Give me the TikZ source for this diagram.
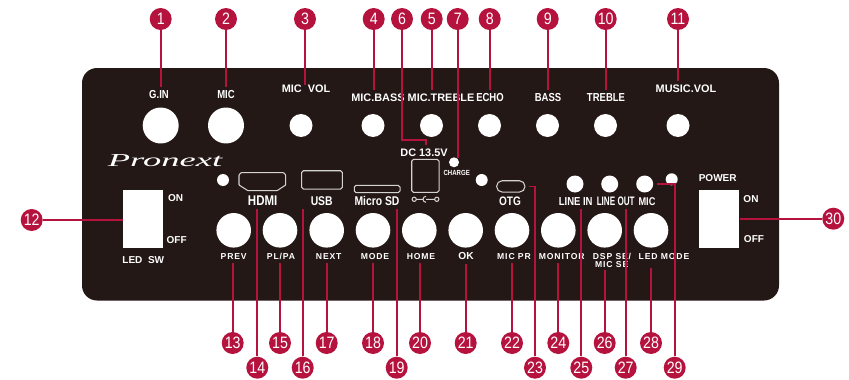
\documentclass[tikz,border=0pt]{standalone}
\usepackage{fontspec}
\setmainfont{Liberation Sans}
\newfontfamily\spacedfont[LetterSpace=10]{Liberation Sans}
\newfontfamily\narrowfont[FakeStretch=.82]{Liberation Sans}
\newfontfamily\tightfont[FakeStretch=.66]{Liberation Sans}
\newfontfamily\numfont[FakeStretch=.86]{Liberation Sans}
\newfontfamily\logofont[FakeStretch=2]{Liberation Serif}
\definecolor{panelblack}{HTML}{231815}
\definecolor{numred}{HTML}{B5123E}
\definecolor{portgray}{HTML}{D5D3D2}

\begin{document}
\begin{tikzpicture}[x=.02cm,y=-.02cm,
    num node/.style={circle,fill=numred,text=white,inner sep=0pt,minimum size=.44cm,font=\numfont\fontsize{9.4}{9.4}\selectfont},
    link/.style={draw=numred,line width=1pt,shorten >=2pt},
    every edge/.style=link,
    hole/.style={circle,fill=white,inner sep=0pt,minimum size=#1},
    switch/.style={fill=white,inner sep=0pt,minimum width=.8cm,minimum height=1.154cm},
    port/.style={draw=portgray,line width=.6pt,rounded corners=1pt,inner sep=0pt},
    plain label/.style={text=white,inner sep=0pt,text depth=0pt,text height=4.4pt,font=\bfseries\fontsize{6.2}{6.2}\selectfont},
    narrow label/.style={plain label,font=\narrowfont\bfseries\fontsize{6.6}{6.6}\selectfont},
    port label/.style={plain label,text height=5.2pt,font=\narrowfont\bfseries\fontsize{7.2}{7.2}\selectfont},
    key label/.style={plain label,text height=3.5pt,font=\spacedfont\bfseries\fontsize{4.9}{4.9}\selectfont}]
  \useasboundingbox (0,0) rectangle (849,379);
  \fill[panelblack,rounded corners=.3cm] (82,68) rectangle (779,300.5);

  \node[hole=.72cm] (k1) at (160.7,125.5) {};
  \node[hole=.72cm] (k2) at (226,125.5) {};
  \node[hole=.46cm] (k3) at (301,125.5) {};
  \node[hole=.46cm] (k4) at (373,125.5) {};
  \node[hole=.46cm] (k5) at (431.5,125.5) {};
  \node[hole=.46cm] (k8) at (489.5,125.5) {};
  \node[hole=.46cm] (k9) at (547.5,125.5) {};
  \node[hole=.46cm] (k10) at (605.5,125.5) {};
  \node[hole=.46cm] (k11) at (678,125.5) {};

  \node[narrow label] (gin) at (159,95) {G.IN};
  \node[narrow label] (mic) at (226,95) {MIC};
  \node[plain label] (micvol) at (306,89) {MIC\ \ VOL};
  \node[plain label] (micbass) at (378,98) {MIC.BASS};
  \node[plain label] (mictreble) at (441,98) {MIC.TREBLE};
  \node[narrow label] (echo) at (490,98) {ECHO};
  \node[narrow label] (bass) at (548,98) {BASS};
  \node[narrow label] (treble) at (606,98) {TREBLE};
  \node[plain label] (musicvol) at (686,89) {MUSIC.VOL};

  \node[text=white,inner sep=0pt,font=\logofont\itshape\fontsize{10.4}{10.4}\selectfont] (logo) at (165,161) {Pronext};
  \node[hole=.24cm] (d1) at (223,180) {};
  \node[hole=.2cm] (chargedot) at (454,162.3) {};
  \node[hole=.24cm] (d2) at (481.7,180) {};
  \node[hole=.34cm] (linein) at (575,184) {};
  \node[hole=.34cm] (lineout) at (609.7,184) {};
  \node[hole=.34cm] (micin) at (644.7,184) {};
  \node[hole=.24cm] (d3) at (671.7,179.3) {};

  \draw[port,rounded corners=.3pt] (239,175) -- (241,172.7) -- (283.7,172.7) -- (285.7,175) -- (285.7,185) -- (277,190.7) -- (248,190.7) -- (239,185) -- cycle;
  \node[port,minimum width=.812cm,minimum height=.366cm] (usbport) at (322,179.9) {};
  \node[port,minimum width=.914cm,minimum height=.148cm] (sdport) at (377.2,189) {};
  \node[port,minimum width=.546cm,minimum height=.66cm] (dcport) at (425.4,175.8) {};
  \node[port,rounded corners=3.1pt,minimum width=.566cm,minimum height=.226cm] (otgport) at (510.8,186.4) {};
  \draw[portgray,line width=.6pt] (414.2,199.3) circle (1.2pt) (416.5,199.3) -- (423,199.3)
    (426,196.3) arc[start angle=90,end angle=270,radius=1.7pt] (426,199.3) -- (434,199.3)
    (436.8,199.3) circle (1.2pt);

  \node[port label,font=\narrowfont\bfseries\fontsize{8}{8}\selectfont] (hdmi) at (262.7,200.7) {HDMI};
  \node[port label] (usb) at (321.7,200.7) {USB};
  \node[port label] (sd) at (377,200.7) {Micro SD};
  \node[plain label] (dc) at (424,152.7) {DC 13.5V};
  \node[narrow label,text height=3pt,font=\narrowfont\bfseries\fontsize{4.2}{4.2}\selectfont] (charge) at (456.7,172.7) {CHARGE};
  \node[port label,font=\narrowfont\bfseries\fontsize{7}{7}\selectfont] (otg) at (510,200.7) {OTG};
  \node[port label,font=\narrowfont\bfseries\fontsize{6.6}{6.6}\selectfont] (lineinl) at (575.7,200.7) {LINE IN};
  \node[port label,font=\tightfont\bfseries\fontsize{7}{7}\selectfont] (lineoutl) at (615.7,200.7) {LINE OUT};
  \node[port label,font=\narrowfont\bfseries\fontsize{6.4}{6.4}\selectfont] (micinl) at (647,200.7) {MIC};

  \node[switch] (swl) at (143.3,218.8) {};
  \node[switch] (swr) at (719.2,218.8) {};
  \node[plain label,font=\bfseries\fontsize{5.7}{5.7}\selectfont] (onl) at (175.7,197.7) {ON};
  \node[plain label,font=\bfseries\fontsize{5.7}{5.7}\selectfont] (offl) at (176.7,239.7) {OFF};
  \node[plain label,font=\bfseries\fontsize{5.7}{5.7}\selectfont] (ledsw) at (143.3,259.3) {LED\ \ SW};
  \node[plain label,font=\bfseries\fontsize{5.7}{5.7}\selectfont] (power) at (717.7,177.7) {POWER};
  \node[plain label,font=\bfseries\fontsize{5.7}{5.7}\selectfont] (onr) at (751,199) {ON};
  \node[plain label,font=\bfseries\fontsize{5.7}{5.7}\selectfont] (offr) at (754,238.3) {OFF};

  \node[hole=.692cm] (b13) at (233.7,230.3) {};
  \node[hole=.692cm] (b15) at (280,230.3) {};
  \node[hole=.692cm] (b17) at (326.7,230.3) {};
  \node[hole=.692cm] (b18) at (373,230.3) {};
  \node[hole=.692cm] (b20) at (419.3,230.3) {};
  \node[hole=.692cm] (b21) at (465.7,230.3) {};
  \node[hole=.692cm] (b22) at (512,230.3) {};
  \node[hole=.692cm] (b24) at (558.3,230.3) {};
  \node[hole=.692cm] (b26) at (604.7,230.3) {};
  \node[hole=.692cm] (b28) at (651,230.3) {};

  \node[key label] (prev) at (233.7,256) {PREV};
  \node[key label] (plpa) at (281,256) {PL/PA};
  \node[key label] (next) at (328.7,256) {NEXT};
  \node[key label] (mode) at (375,256) {MODE};
  \node[key label] (home) at (421,256) {HOME};
  \node[plain label,font=\bfseries\fontsize{5.8}{5.8}\selectfont] (ok) at (466,256) {OK};
  \node[key label] (micpr) at (514,256) {MIC PR};
  \node[key label] (monitor) at (561.7,256) {MONITOR};
  \node[key label] (dspse) at (612,256) {DSP SE/};
  \node[key label] (micse) at (611.7,264.7) {MIC SE};
  \node[key label] (ledmode) at (664,256) {LED MODE};

  \node[num node] (1) at (160.7,19) {1};
  \node[num node] (2) at (226,19) {2};
  \node[num node] (3) at (305,19) {3};
  \node[num node] (4) at (373.7,19) {4};
  \node[num node] (5) at (431.7,19) {5};
  \node[num node] (6) at (402,19) {6};
  \node[num node] (7) at (457.7,19) {7};
  \node[num node] (8) at (489.7,19) {8};
  \node[num node] (9) at (547.7,19) {9};
  \node[num node] (10) at (605.7,19) {10};
  \node[num node] (11) at (678,19) {11};
  \node[num node] (12) at (31.7,220) {12};
  \node[num node] (13) at (232.7,343) {13};
  \node[num node] (14) at (257.3,367.7) {14};
  \node[num node] (15) at (280,343) {15};
  \node[num node] (16) at (302.7,367.7) {16};
  \node[num node] (17) at (326.7,343) {17};
  \node[num node] (18) at (373,343) {18};
  \node[num node] (19) at (396.7,367.7) {19};
  \node[num node] (20) at (420,343) {20};
  \node[num node] (21) at (465.7,343) {21};
  \node[num node] (22) at (512,343) {22};
  \node[num node] (23) at (535,367.7) {23};
  \node[num node] (24) at (558.3,343) {24};
  \node[num node] (25) at (581.3,367.7) {25};
  \node[num node] (26) at (604.7,343) {26};
  \node[num node] (27) at (625.7,367.7) {27};
  \node[num node] (28) at (651,343) {28};
  \node[num node] (29) at (674.7,367.7) {29};
  \node[num node] (30) at (833.3,218.7) {30};
  \coordinate (bend6) at (425.7,140);

  \path
    (1) edge (1 |- gin.north)
    (2) edge (2 |- mic.north)
    (3) edge [shorten >=0pt] (3 |- micvol.north)
    (4) edge (4 |- micbass.north)
    (5) edge (5 |- mictreble.north)
    (7) edge [shorten >=0pt] (7 |- chargedot.60)
    (8) edge (8 |- echo.north)
    (9) edge (9 |- bass.north)
    (10) edge (10 |- treble.north)
    (11) edge (11 |- musicvol.north)
    (12) edge [shorten >=0pt] (12 -| swl.west)
    (30) edge [shorten >=0pt] (30 -| swr.east)
    (13) edge (13 |- prev.south)
    (14) edge (14 |- hdmi.south)
    (15) edge (15 |- plpa.south)
    (16) edge (16 |- usb.south)
    (17) edge (17 |- next.south)
    (18) edge (18 |- mode.south)
    (19) edge (19 |- sd.south)
    (20) edge (20 |- home.south)
    (21) edge (21 |- ok.south)
    (22) edge (22 |- micpr.south)
    (24) edge (24 |- monitor.south)
    (25) edge (25 |- lineinl.south)
    (26) edge [shorten >=1pt] (26 |- micse.south)
    (27) edge (27 |- lineoutl.south)
    (28) edge [shorten >=5pt] (28 |- ledmode.south);
  \draw[link] (6) |- (bend6) -- (bend6 |- dc.north);
  \draw[link] (23) |- (otgport.east);
  \draw[link] (29) |- (micin.east);
\end{tikzpicture}
\end{document}
